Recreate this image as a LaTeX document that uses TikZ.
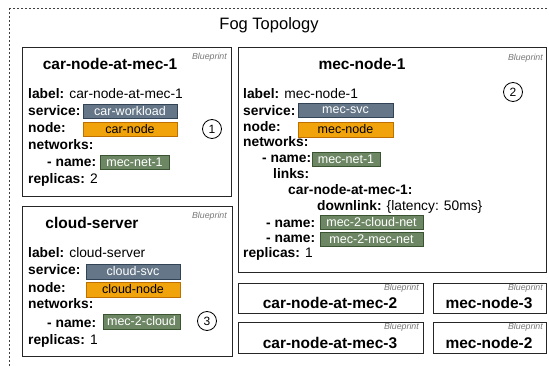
\documentclass[tikz,border=0pt]{standalone}
\usepackage{fontspec}
\setmainfont{Liberation Sans}
\usetikzlibrary{fit}
\definecolor{svcfill}{HTML}{647687}
\definecolor{svcline}{HTML}{314354}
\definecolor{nodefill}{HTML}{F0A30A}
\definecolor{nodeline}{HTML}{BD7000}
\definecolor{netfill}{HTML}{6D8764}
\definecolor{netline}{HTML}{3A5431}
\definecolor{bpgray}{HTML}{777777}
\begin{document}
\begin{tikzpicture}[x=1pt,y=-1pt,
  bpbox/.style={draw=black!85, line width=0.9pt, inner sep=0pt},
  outer/.style={draw=black!75, line width=0.7pt, dash pattern=on 2pt off 2pt},
  ttl/.style={font=\fontsize{15.5}{18}\selectfont\bfseries, inner sep=0pt},
  bptag/.style={font=\fontsize{8.8}{10}\selectfont\itshape, text=bpgray, anchor=east, inner sep=0pt},
  kv/.style={font=\fontsize{13.8}{16}\selectfont, anchor=base west, inner sep=0pt},
  tagbox/.style={inner sep=0pt, line width=0.7pt, font=\fontsize{12.5}{14}\selectfont},
  svc/.style={tagbox, fill=svcfill, draw=svcline, text=white},
  nod/.style={tagbox, fill=nodefill, draw=nodeline, text=black},
  net/.style={tagbox, fill=netfill, draw=netline, text=white},
  num/.style={circle, draw=black, line width=0.8pt, minimum size=19pt, inner sep=0pt, font=\fontsize{12}{14}\selectfont}
]
\useasboundingbox (0,0) rectangle (549,366);
\draw[outer] (9,8) rectangle (560,380);
\node[font=\fontsize{16.5}{19}\selectfont, inner sep=0pt] (topo) at (269,25) {Fog Topology};

% ---------- box 1 ----------
\coordinate (b1nw) at (22,47); \coordinate (b1se) at (231,196);
\node[bpbox, fit=(b1nw)(b1se)] (b1) {};
\node[ttl] (b1t) at (110,64) {car-node-at-mec-1};
\node[bptag] (b1bp) at (227,57) {Blueprint};
\node[kv] (b1l) at (28,99) {\textbf{label:} car-node-at-mec-1};
\node[kv] (b1s) at (28,116) {\textbf{service:}};
\node[svc, minimum width=94pt, minimum height=14pt] (b1sv) at (130,111) {car-workload};
\node[kv] (b1n) at (28,133) {\textbf{node:}};
\node[nod, minimum width=94pt, minimum height=14pt] (b1nv) at (130,129) {car-node};
\node[kv] (b1w) at (28,150) {\textbf{networks:}};
\node[kv] (b1nm) at (47,167) {\textbf{- name:}};
\node[net, minimum width=69pt, minimum height=14pt] (b1nt) at (134.5,162) {mec-net-1};
\node[kv] (b1r) at (28,184) {\textbf{replicas:} 2};
\node[num] (c1) at (212,129) {1};

% ---------- box 2 ----------
\coordinate (b2nw) at (238,47); \coordinate (b2se) at (546,272);
\node[bpbox, fit=(b2nw)(b2se)] (b2) {};
\node[ttl] (b2t) at (362,64) {mec-node-1};
\node[bptag] (b2bp) at (543,58) {Blueprint};
\node[num] (c2) at (513,92) {2};
\node[kv] (b2l) at (243,99) {\textbf{label:} mec-node-1};
\node[kv] (b2s) at (243,116) {\textbf{service:}};
\node[svc, minimum width=95pt, minimum height=14pt] (b2sv) at (345.5,110) {mec-svc};
\node[kv] (b2n) at (243,132) {\textbf{node:}};
\node[nod, minimum width=95pt, minimum height=15pt] (b2nv) at (345.5,129.5) {mec-node};
\node[kv] (b2w) at (243,147) {\textbf{networks:}};
\node[kv] (b2nm) at (262,163) {\textbf{- name:}};
\node[net, minimum width=68pt, minimum height=14pt] (b2nt) at (346,159) {mec-net-1};
\node[kv] (b2lk) at (273,179) {\textbf{links:}};
\node[kv] (b2cn) at (288,195) {\textbf{car-node-at-mec-1:}};
\node[kv] (b2dl) at (317,211) {\textbf{downlink:} \{latency: 50ms\}};
\node[kv] (b2nm2) at (266,228) {\textbf{- name:}};
\node[net, minimum width=103pt, minimum height=14pt] (b2nt2) at (371.5,222) {mec-2-cloud-net};
\node[kv] (b2nm3) at (266,243) {\textbf{- name:}};
\node[net, minimum width=103pt, minimum height=14pt] (b2nt3) at (371.5,239) {mec-2-mec-net};
\node[kv] (b2r) at (243,258) {\textbf{replicas:} 1};

% ---------- cloud-server ----------
\coordinate (b3nw) at (22,206); \coordinate (b3se) at (232,356);
\node[bpbox, fit=(b3nw)(b3se)] (b3) {};
\node[ttl] (b3t) at (92,223) {cloud-server};
\node[bptag] (b3bp) at (227,216) {Blueprint};
\node[kv] (b3l) at (28,258) {\textbf{label:} cloud-server};
\node[kv] (b3s) at (28,275) {\textbf{service:}};
\node[svc, minimum width=94pt, minimum height=15pt] (b3sv) at (133,271.5) {cloud-svc};
\node[kv] (b3n) at (28,292) {\textbf{node:}};
\node[nod, minimum width=94pt, minimum height=15pt] (b3nv) at (133,289.5) {cloud-node};
\node[kv] (b3w) at (28,308) {\textbf{networks:}};
\node[kv] (b3nm) at (47,327) {\textbf{- name:}};
\node[net, minimum width=77pt, minimum height=15pt] (b3nt) at (141.5,321.5) {mec-2-cloud};
\node[kv] (b3r) at (28,344) {\textbf{replicas:} 1};
\node[num] (c3) at (207,321) {3};

% ---------- small boxes ----------
\coordinate (b4nw) at (238,283); \coordinate (b4se) at (423,313);
\node[bpbox, fit=(b4nw)(b4se)] (b4) {};
\node[bptag] (b4bp) at (419,288) {Blueprint};
\node[ttl] (b4t) at (330,303) {car-node-at-mec-2};

\coordinate (b5nw) at (433,283); \coordinate (b5se) at (546,313);
\node[bpbox, fit=(b5nw)(b5se)] (b5) {};
\node[bptag] (b5bp) at (543,288) {Blueprint};
\node[ttl] (b5t) at (489,303) {mec-node-3};

\coordinate (b6nw) at (238,322); \coordinate (b6se) at (423,353);
\node[bpbox, fit=(b6nw)(b6se)] (b6) {};
\node[bptag] (b6bp) at (419,327) {Blueprint};
\node[ttl] (b6t) at (330,343) {car-node-at-mec-3};

\coordinate (b7nw) at (433,322); \coordinate (b7se) at (546,353);
\node[bpbox, fit=(b7nw)(b7se)] (b7) {};
\node[bptag] (b7bp) at (543,327) {Blueprint};
\node[ttl] (b7t) at (489,343) {mec-node-2};
\end{tikzpicture}
\end{document}
